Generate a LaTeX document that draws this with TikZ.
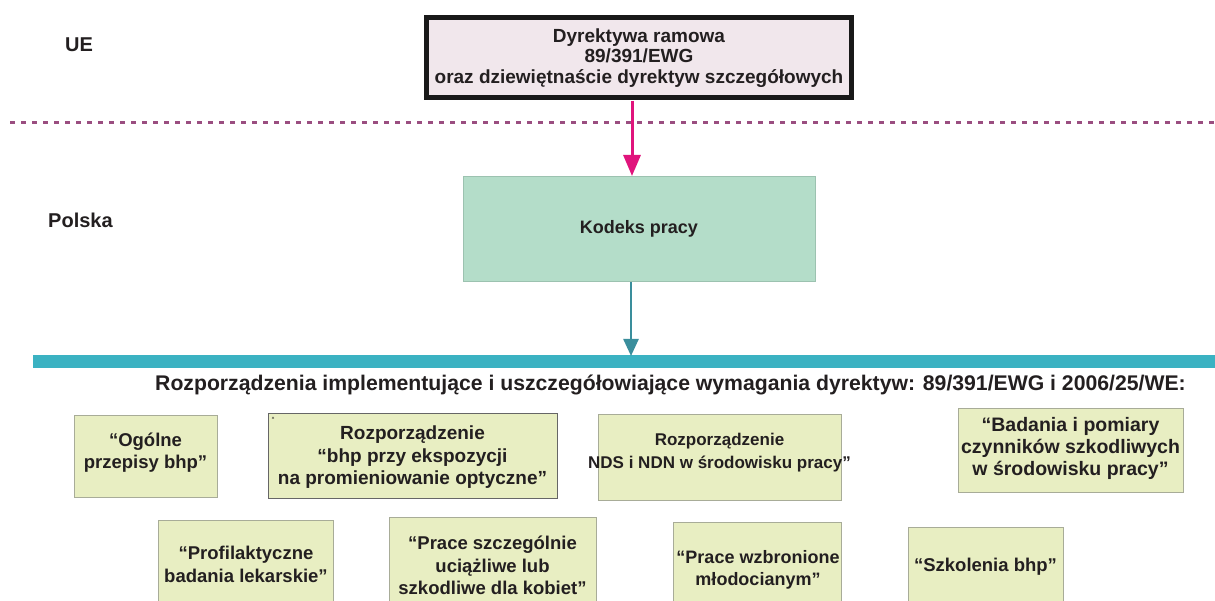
\documentclass[tikz,border=0pt]{standalone}
\usepackage{fontspec}
\setmainfont{Liberation Sans}
\usetikzlibrary{arrows.meta}
\definecolor{topfill}{HTML}{F1E7EC}
\definecolor{kodfill}{HTML}{B4DDC9}
\definecolor{kodline}{HTML}{9CC2B0}
\definecolor{boxfill}{HTML}{E8EEC2}
\definecolor{boxline}{HTML}{A8AC98}
\definecolor{dotline}{HTML}{9A4E80}
\definecolor{pinkarrow}{HTML}{E0147C}
\definecolor{tealbar}{HTML}{3BB2C2}
\definecolor{tealarrow}{HTML}{3A8E9C}
\definecolor{txt}{HTML}{231F20}
\tikzset{
  x=1pt, y=-1pt,
  lbl/.style={font=\bfseries\fontsize{20}{22}\selectfont, text=txt, inner sep=0pt},
  regbox/.style={draw=boxline, fill=boxfill, line width=0.8pt},
  boxtext/.style={font=\bfseries\fontsize{18.5}{22.5}\selectfont, text=txt, align=center, inner sep=0pt},
  arr/.style={-{Triangle[length=21pt,width=17pt]}, line width=3pt},
}
\begin{document}
\begin{tikzpicture}
\useasboundingbox (0,0) rectangle (1215,601);
\fill[white] (0,0) rectangle (1215,601);
% top box
\node[draw=black!90, line width=5pt, fill=topfill, minimum width=425pt, minimum height=80pt, inner sep=0pt] (eu) at (639,58) {};
\node[boxtext, font=\bfseries\fontsize{19}{20.5}\selectfont] (eut) at (eu.center) {Dyrektywa ramowa\\89/391/EWG\\oraz dziewiętnaście dyrektyw szczegółowych};
\node[lbl, anchor=west] (ue) at (65,45) {UE};
% dotted line
\coordinate (dl) at (10,123);
\coordinate (dr) at (1215,123);
\draw[dotline, line width=3pt, dash pattern=on 5pt off 6pt] (dl) -- (dr);
% Kodeks box
\node[draw=kodline, fill=kodfill, line width=0.8pt, minimum width=352pt, minimum height=105pt, inner sep=0pt] (kp) at (639,228.5) {};
\node[boxtext, font=\bfseries\fontsize{18}{20}\selectfont] (kpt) at (kp.center) {Kodeks pracy};
\node[lbl, anchor=west] (pl) at (48,220) {Polska};
% teal bar
\fill[tealbar] (33,355) rectangle (1215,368);
\coordinate (barhit) at (631,356);
\coordinate (kpbot) at (631,282);
\coordinate (eubot) at (632,101);
\coordinate (kptop) at (632,176);
\draw[arr, pinkarrow] (eubot) -- (kptop);
\draw[arr, tealarrow, -{Triangle[length=17pt,width=15pt]}, line width=2.5pt] (kpbot) -- (barhit);
% heading
\node[lbl, font=\bfseries\fontsize{21.2}{24}\selectfont, anchor=west] (hd) at (155,385) {Rozporządzenia implementujące i uszczegółowiające wymagania dyrektyw: 89/391/EWG i 2006/25/WE:};
% boxes row 1
\draw[regbox] (74,415) rectangle (217,497);
\node[boxtext] (b1) at (145.5,452.5) {“Ogólne\\przepisy bhp”};
\draw[regbox, draw=black!60] (268,413) rectangle (557,498);
\node[boxtext, font=\bfseries\fontsize{19}{22.5}\selectfont] (b2) at (412.5,457.5) {Rozporządzenie\\“bhp przy ekspozycji\\ na promieniowanie optyczne”};
\node[font=\bfseries\fontsize{6}{6}\selectfont, text=txt, inner sep=0pt] (b2q) at (273,419) {“};
\draw[regbox] (598,414) rectangle (841,500);
\node[boxtext, font=\bfseries\fontsize{17}{23}\selectfont] (b3) at (719.5,452.5) {Rozporządzenie\\NDS i NDN w środowisku pracy”};
\draw[regbox] (958,408) rectangle (1183,492);
\node[boxtext, font=\bfseries\fontsize{19.5}{22}\selectfont] (b4) at (1070.5,448.5) {“Badania i pomiary\\czynników szkodliwych\\w środowisku pracy”};
% boxes row 2
\draw[regbox] (158,520) rectangle (333,605);
\node[boxtext] (b5) at (246,564.5) {“Profilaktyczne\\badania lekarskie”};
\draw[regbox] (389,517) rectangle (596,605);
\node[boxtext] (b6) at (492.5,565.5) {“Prace szczególnie\\ uciążliwe lub\\szkodliwe dla kobiet”};
\draw[regbox] (673,522) rectangle (841,605);
\node[boxtext, font=\bfseries\fontsize{18}{22}\selectfont] (b7) at (758,569.5) {“Prace wzbronione\\młodocianym”};
\draw[regbox] (908,527) rectangle (1063,605);
\node[boxtext] (b8) at (985.5,567) {“Szkolenia bhp”};
\end{tikzpicture}
\end{document}
